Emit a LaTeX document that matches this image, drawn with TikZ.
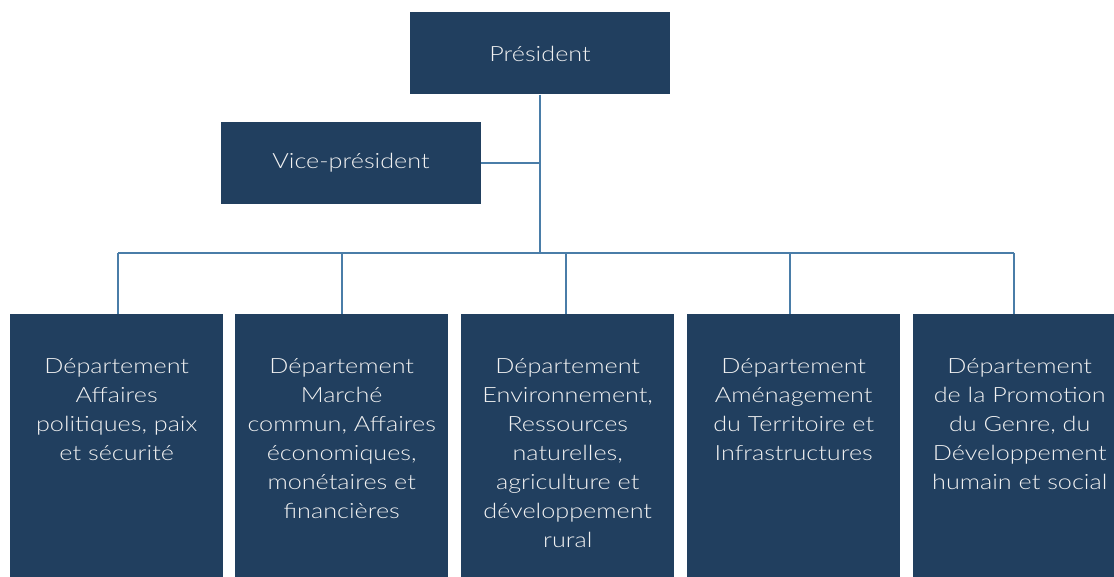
\documentclass[tikz,border=0pt]{standalone}
\usepackage{fontspec}
\setmainfont{Lato}[UprightFont=* Light, FakeStretch=1.2]
\begin{document}
\definecolor{boxblue}{HTML}{213F5F}
\definecolor{linkblue}{HTML}{4A7DA8}
\definecolor{boxtext}{HTML}{F2F2F2}
\begin{tikzpicture}[x=1pt,y=-1pt,
  topbox/.style={fill=boxblue, draw=none, inner sep=0pt,
    minimum width=260pt, minimum height=82pt,
    text=boxtext, font=\fontsize{21pt}{26pt}\selectfont},
  deptbox/.style={fill=boxblue, draw=none, inner sep=0pt, anchor=north west,
    minimum width=213pt, minimum height=263pt},
  depttext/.style={anchor=north, inner sep=0pt, align=center, text=boxtext,
    font=\fontsize{21pt}{29pt}\selectfont},
  link/.style={draw=linkblue, line width=2.7pt}]
\useasboundingbox (0,0) rectangle (1114,577);
\clip (0,0) rectangle (1114,577);

% executive level
\node[topbox] (pres) at (540,53.5) {Président};
\node[topbox] (vice) at (351,163) {Vice-président};

% junction points of the connector tree
\coordinate (hub) at (540,253);
\coordinate (b1) at (118,253);
\coordinate (b2) at (342,253);
\coordinate (b3) at (566,253);
\coordinate (b4) at (790,253);
\coordinate (b5) at (1014,253);

% departments
\node[deptbox] (d1) at (10,314) {};
\node[deptbox] (d2) at (235,314) {};
\node[deptbox] (d3) at (461,314) {};
\node[deptbox] (d4) at (687,314) {};
\node[deptbox] (d5) at (913,314) {};

\node[depttext] (t1) at ([yshift=-44pt]d1.north) {Département\\Affaires\\politiques, paix\\et sécurité};
\node[depttext] (t2) at ([yshift=-44pt]d2.north) {Département\\Marché\\commun, Affaires\\économiques,\\monétaires et\\financières};
\node[depttext] (t3) at ([yshift=-44pt]d3.north) {Département\\Environnement,\\Ressources\\naturelles,\\agriculture et\\développement\\rural};
\node[depttext] (t4) at ([yshift=-44pt]d4.north) {Département\\Aménagement\\du Territoire et\\Infrastructures};
\node[depttext] (t5) at ([yshift=-44pt]d5.north) {Département\\de la Promotion\\du Genre, du\\Développement\\humain et social};

% connectors
\draw[link] (pres.south) -- (hub);
\draw[link] (vice.east) -- (vice.east -| hub);
\draw[link] (b1) -- (b5);
\draw[link] (b1) -- (b1 |- d1.north);
\draw[link] (b2) -- (b2 |- d2.north);
\draw[link] (b3) -- (b3 |- d3.north);
\draw[link] (b4) -- (b4 |- d4.north);
\draw[link] (b5) -- (b5 |- d5.north);
\end{tikzpicture}
\end{document}
